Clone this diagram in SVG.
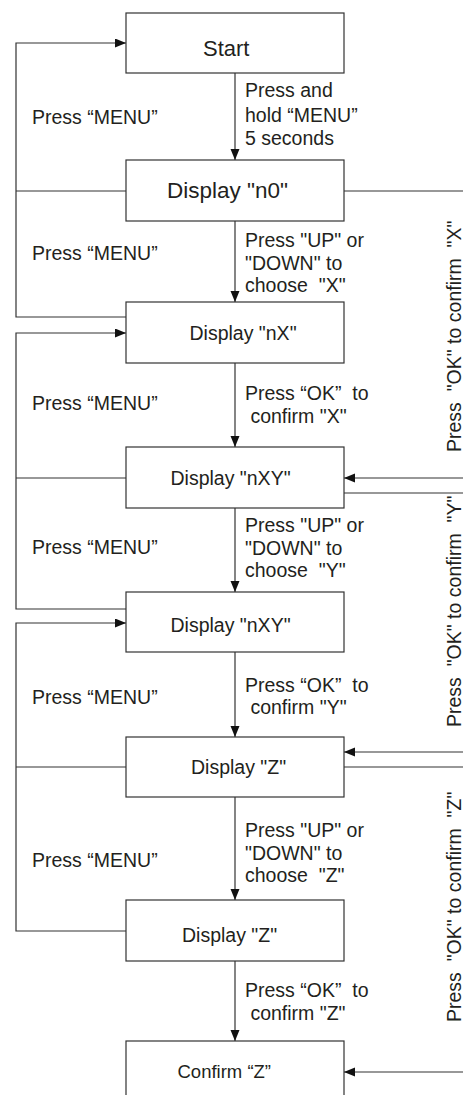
<svg xmlns="http://www.w3.org/2000/svg" width="463" height="1095" viewBox="0 0 463 1095">
<style>
.box{fill:#fff;stroke:#333;stroke-width:1.2}
.ln{fill:none;stroke:#333;stroke-width:1.2}
.ar{fill:none;stroke:#333;stroke-width:1.2;marker-end:url(#ah)}
text{font-family:"Liberation Sans",Arial,sans-serif;fill:#231f20;font-size:19.5px;white-space:pre}
.big{font-size:22px}
</style>
<defs>
<marker id="ah" markerUnits="userSpaceOnUse" markerWidth="12" markerHeight="10" refX="11" refY="4.5" orient="auto">
<path d="M0,0 L11,4.5 L0,9 z" fill="#111"/>
</marker>
</defs>
<rect width="463" height="1095" fill="#fff"/>
<g id="connectors">
<path class="ar" d="M235,73 V160"/>
<path class="ar" d="M235,221 V302"/>
<path class="ar" d="M235,363 V447"/>
<path class="ar" d="M235,508 V592"/>
<path class="ar" d="M235,652 V737"/>
<path class="ar" d="M235,797 V900"/>
<path class="ar" d="M235,961 V1041"/>
<path class="ar" d="M126,317 H16 V43 H126"/>
<path class="ln" d="M126,191 H16"/>
<path class="ar" d="M126,609 H16 V333 H126"/>
<path class="ln" d="M126,478 H16"/>
<path class="ar" d="M126,931 H16 V623 H126"/>
<path class="ln" d="M126,767 H16"/>
<path class="ln" d="M344,191 H463"/>
<path class="ar" d="M463,478 H344"/>
<path class="ln" d="M344,493 H463"/>
<path class="ar" d="M463,752 H344"/>
<path class="ln" d="M344,767 H463"/>
<path class="ar" d="M463,1072 H344"/>
<g xml:space="preserve">
<text x="32" y="123.5">Press “MENU”</text>
<text x="32" y="260">Press “MENU”</text>
<text x="32" y="410">Press “MENU”</text>
<text x="32" y="554">Press “MENU”</text>
<text x="32" y="704">Press “MENU”</text>
<text x="32" y="866.5">Press “MENU”</text>
<text x="245" y="97">Press and</text>
<text x="245" y="122">hold “MENU”</text>
<text x="245" y="145">5 seconds</text>
<text x="245" y="246.5">Press "UP" or</text>
<text x="245" y="270">"DOWN" to</text>
<text x="245" y="291.5">choose  "X"</text>
<text x="245" y="400">Press “OK”  to</text>
<text x="245" y="423"> confirm "X"</text>
<text x="245" y="531.5">Press "UP" or</text>
<text x="245" y="555">"DOWN" to</text>
<text x="245" y="576.5">choose  "Y"</text>
<text x="245" y="691.5">Press “OK”  to</text>
<text x="245" y="714"> confirm "Y"</text>
<text x="245" y="836.5">Press "UP" or</text>
<text x="245" y="860">"DOWN" to</text>
<text x="245" y="881.5">choose  "Z"</text>
<text x="245" y="996.5">Press “OK”  to</text>
<text x="245" y="1020"> confirm "Z"</text>
<text transform="translate(461,452) rotate(-90)">Press  "OK" to confirm  "X"</text>
<text transform="translate(461,727) rotate(-90)">Press  "OK" to confirm  "Y"</text>
<text transform="translate(461,1022) rotate(-90)">Press  "OK" to confirm  "Z"</text>
</g>
</g>
<g id="start"><rect class="box" x="126" y="13" width="218" height="60"/><text class="big" x="203" y="56">Start</text></g>
<g id="n0"><rect class="box" x="126" y="160" width="218" height="61"/><text x="167" y="197.5" style="font-size:22.5px">Display "n0"</text></g>
<g id="nX"><rect class="box" x="126" y="302" width="218" height="61"/><text x="189.5" y="339.5">Display "nX"</text></g>
<g id="nXY1"><rect class="box" x="126" y="447" width="218" height="61"/><text x="170.5" y="484.5">Display "nXY"</text></g>
<g id="nXY2"><rect class="box" x="126" y="592" width="218" height="60"/><text x="170.5" y="631.5">Display "nXY"</text></g>
<g id="z1"><rect class="box" x="126" y="737" width="218" height="60"/><text x="191" y="773.5">Display "Z"</text></g>
<g id="z2"><rect class="box" x="126" y="900" width="218" height="61"/><text x="182" y="941.5">Display "Z"</text></g>
<g id="confirm"><rect class="box" x="126" y="1041" width="218" height="60"/><text x="177.5" y="1077.5" style="font-size:18.5px">Confirm “Z”</text></g>
</svg>
